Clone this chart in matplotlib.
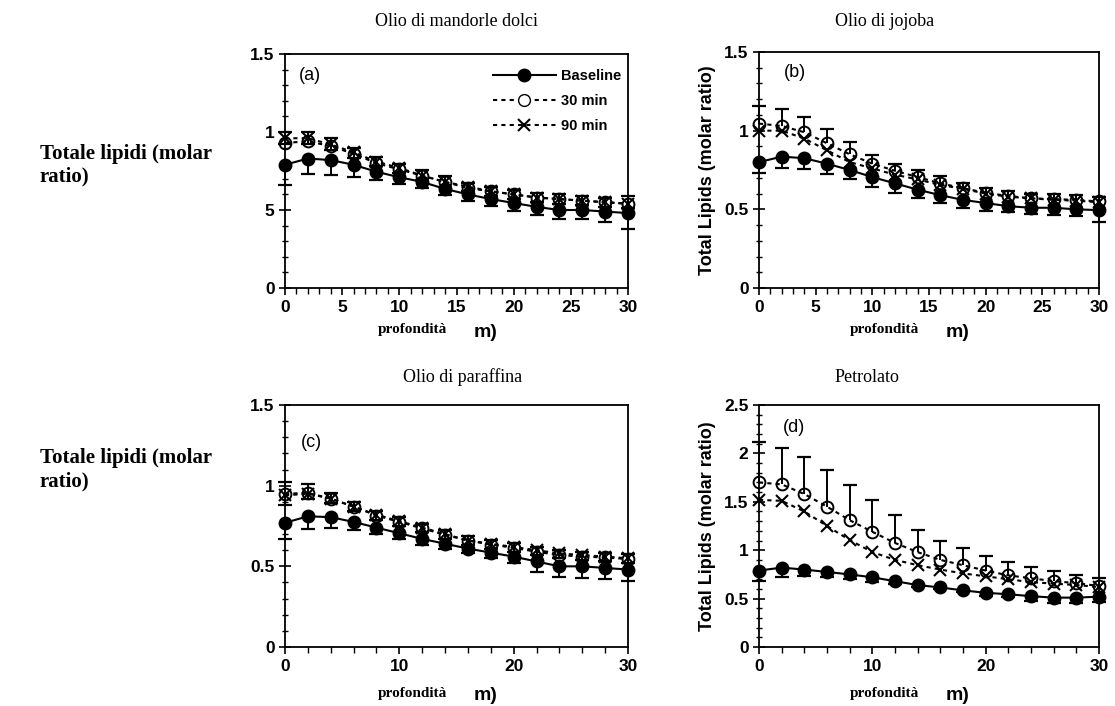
import numpy as np
import matplotlib
matplotlib.use('Agg')
import matplotlib.pyplot as plt
from matplotlib.lines import Line2D
from matplotlib.ticker import MultipleLocator

# %% data
depth = list(range(0, 31, 2))

aBase    = [0.79, 0.83, 0.82, 0.79, 0.745, 0.71, 0.68, 0.635, 0.60, 0.57, 0.545, 0.52, 0.50, 0.50, 0.49, 0.48]
aBaseErr = [0.13, 0.10, 0.095, 0.08, 0.05, 0.045, 0.04, 0.04, 0.045, 0.045, 0.05, 0.055, 0.06, 0.06, 0.07, 0.10]
a30      = [0.93, 0.94, 0.91, 0.86, 0.80, 0.76, 0.72, 0.68, 0.64, 0.62, 0.60, 0.58, 0.57, 0.56, 0.55, 0.54]
a30Err   = [0.07, 0.06, 0.05, 0.04, 0.04, 0.035, 0.035, 0.035, 0.035, 0.03, 0.03, 0.03, 0.03, 0.03, 0.03, 0.05]
a90      = [0.96, 0.96, 0.92, 0.87, 0.81, 0.77, 0.72, 0.68, 0.65, 0.62, 0.60, 0.58, 0.57, 0.56, 0.55, 0.54]
a90Err   = [0.04, 0.04, 0.035, 0.035, 0.03, 0.03, 0.03, 0.03, 0.03, 0.03, 0.03, 0.03, 0.03, 0.03, 0.03, 0.03]

bBase    = [0.80, 0.835, 0.825, 0.79, 0.75, 0.705, 0.665, 0.625, 0.59, 0.56, 0.54, 0.52, 0.51, 0.51, 0.50, 0.495]
bBaseErr = [0.07, 0.075, 0.07, 0.065, 0.06, 0.06, 0.06, 0.055, 0.05, 0.05, 0.05, 0.035, 0.04, 0.045, 0.045, 0.075]
b30      = [1.045, 1.03, 0.99, 0.92, 0.85, 0.79, 0.745, 0.705, 0.665, 0.635, 0.605, 0.585, 0.57, 0.565, 0.56, 0.55]
b30Err   = [0.11, 0.11, 0.10, 0.09, 0.075, 0.055, 0.045, 0.045, 0.045, 0.035, 0.03, 0.03, 0.03, 0.03, 0.03, 0.03]
b90      = [1.00, 1.00, 0.95, 0.875, 0.80, 0.76, 0.72, 0.69, 0.655, 0.63, 0.60, 0.58, 0.57, 0.56, 0.555, 0.545]

cBase    = [0.77, 0.81, 0.805, 0.775, 0.74, 0.705, 0.67, 0.64, 0.61, 0.585, 0.56, 0.53, 0.50, 0.50, 0.49, 0.48]
cBaseErr = [0.10, 0.08, 0.07, 0.05, 0.04, 0.035, 0.035, 0.03, 0.03, 0.035, 0.04, 0.065, 0.065, 0.07, 0.07, 0.07]
c30      = [0.95, 0.955, 0.92, 0.87, 0.815, 0.775, 0.735, 0.695, 0.66, 0.635, 0.615, 0.59, 0.57, 0.56, 0.555, 0.545]
c30Err   = [0.07, 0.055, 0.035, 0.03, 0.03, 0.03, 0.03, 0.03, 0.03, 0.03, 0.03, 0.03, 0.03, 0.03, 0.03, 0.03]
c90      = [0.94, 0.95, 0.92, 0.87, 0.82, 0.78, 0.74, 0.70, 0.66, 0.64, 0.62, 0.60, 0.58, 0.57, 0.56, 0.55]
c90Err   = [0.06, 0.03, 0.03, 0.03, 0.03, 0.03, 0.03, 0.03, 0.03, 0.03, 0.03, 0.03, 0.03, 0.03, 0.03, 0.03]

dBase    = [0.79, 0.82, 0.80, 0.775, 0.75, 0.72, 0.68, 0.64, 0.615, 0.585, 0.56, 0.545, 0.525, 0.51, 0.51, 0.52]
dBaseErr = [0.11, 0.10, 0.07, 0.055, 0.05, 0.05, 0.025, 0.02, 0.02, 0.02, 0.03, 0.03, 0.045, 0.06, 0.055, 0.06]
d30      = [1.70, 1.68, 1.58, 1.45, 1.31, 1.19, 1.075, 0.98, 0.90, 0.845, 0.79, 0.74, 0.71, 0.68, 0.66, 0.63]
d30Err   = [0.42, 0.38, 0.38, 0.38, 0.36, 0.33, 0.285, 0.23, 0.20, 0.175, 0.155, 0.135, 0.12, 0.10, 0.08, 0.08]
d90      = [1.52, 1.51, 1.40, 1.25, 1.105, 0.98, 0.90, 0.845, 0.80, 0.76, 0.73, 0.70, 0.67, 0.655, 0.64, 0.62]

legendLabels = ['Baseline', '30 min', '90 min']
panelTitles = ['Olio di mandorle dolci', 'Olio di jojoba', 'Olio di paraffina', 'Petrolato']
panelTags = ['(a)', '(b)', '(c)', '(d)']

# %% helpers
SANS = 'Liberation Sans'
SERIF = 'Liberation Serif'

def drawBars(ax, x, y, err, up):
  x = np.array(x); y = np.array(y); err = np.array(err)
  end = y + err if up else y - err
  ax.vlines(x, y, end, color='k', lw=1.4, zorder=2, clip_on=False)
  ax.plot(x, end, marker='_', markersize=10, mew=1.6, color='k', linestyle='none', zorder=2, clip_on=False)

def drawPanel(ax, base, baseErr, s30, s30Err, s90, s90Err):
  drawBars(ax, depth, base, baseErr, up=False)
  drawBars(ax, depth, s30, s30Err, up=True)
  if s90Err is not None:
    drawBars(ax, depth, s90, s90Err, up=False)
  ax.plot(depth, s90, color='k', lw=1.5, linestyle=(0, (2, 2)), marker='x', markersize=9, mew=1.5, zorder=3, clip_on=False)
  ax.plot(depth, s30, color='k', lw=1.5, linestyle=(0, (2, 2)), marker='o', markersize=8.5, mew=1.4,
          markerfacecolor='none', zorder=4, clip_on=False)
  ax.plot(depth, base, color='k', lw=1.5, linestyle='-', marker='o', markersize=9, zorder=5, clip_on=False)

def styleAxes(ax, ymax, xmajor, xminor):
  ax.set_xlim(0, 30)
  ax.set_ylim(0, ymax)
  ax.xaxis.set_major_locator(MultipleLocator(xmajor))
  ax.xaxis.set_minor_locator(MultipleLocator(xminor))
  ax.yaxis.set_major_locator(MultipleLocator(0.5))
  ax.yaxis.set_minor_locator(MultipleLocator(0.1))
  ax.tick_params(axis='y', which='major', direction='inout', length=8, width=1.2, right=False)
  ax.tick_params(axis='y', which='minor', direction='inout', length=5, width=1.0, right=False)
  ax.tick_params(axis='x', which='major', direction='out', length=5, width=1.2, top=False)
  ax.tick_params(axis='x', which='minor', direction='out', length=4, width=1.0, top=False)
  for s in ax.spines.values():
    s.set_linewidth(1.3)

def fmtTick(v):
  return f'{v:g}'

# %% figure
fig = plt.figure(figsize=(11.15, 7.06), dpi=100)
W, H = 1115, 706

def axRect(left, right, top, bottom):
  return [left / W, 1 - bottom / H, (right - left) / W, (bottom - top) / H]

axA = fig.add_axes(axRect(285, 628, 54, 288))
axB = fig.add_axes(axRect(759, 1099, 52, 288))
axC = fig.add_axes(axRect(285, 628, 405, 647))
axD = fig.add_axes(axRect(759, 1099, 405, 647))

drawPanel(axA, aBase, aBaseErr, a30, a30Err, a90, a90Err)
drawPanel(axB, bBase, bBaseErr, b30, b30Err, b90, None)
drawPanel(axC, cBase, cBaseErr, c30, c30Err, c90, c90Err)
drawPanel(axD, dBase, dBaseErr, d30, d30Err, d90, None)

styleAxes(axA, 1.5, 5, 1)
styleAxes(axB, 1.5, 5, 1)
styleAxes(axC, 1.5, 10, 2)
styleAxes(axD, 2.5, 10, 2)

for ax, ymax in [(axA, 1.5), (axB, 1.5), (axC, 1.5), (axD, 2.5)]:
  ticks = np.arange(0, ymax + 0.01, 0.5)
  labels = [fmtTick(t) for t in ticks]
  if ax is axA:
    labels[1] = '5'
  ax.set_yticks(ticks, labels, fontfamily=SANS, fontweight='bold', fontsize=12.5)
  xt = ax.get_xticks()
  ax.set_xticks(xt, [fmtTick(t) for t in xt], fontfamily=SANS, fontweight='bold', fontsize=12.5)
  ax.set_xlim(0, 30)

# panel tags
for ax, tag, (tx, ty) in zip([axA, axB, axC, axD], panelTags,
                             [(0.073, 0.91), (0.105, 0.915), (0.076, 0.847), (0.103, 0.905)]):
  ax.text(tx, ty, tag, transform=ax.transAxes, fontfamily=SANS, fontsize=13, ha='center', va='center')

# legend
handles = [
  Line2D([0], [0], color='k', lw=1.5, marker='o', markersize=9),
  Line2D([0], [0], color='k', lw=1.5, linestyle=(0, (2, 2)), marker='o', markersize=8.5, markerfacecolor='white'),
  Line2D([0], [0], color='k', lw=1.5, linestyle=(0, (2, 2)), marker='x', markersize=9, mew=1.5),
]
axA.legend(handles, legendLabels, loc='upper left', bbox_to_anchor=(0.585, 0.965), frameon=False,
           handlelength=4.3, handletextpad=0.35, labelspacing=0.75, borderpad=0,
           prop={'family': SANS, 'weight': 'bold', 'size': 10.5})

# titles
fig.text(456 / W, 1 - 22 / H, panelTitles[0], fontfamily=SERIF, fontsize=13, ha='center', va='center')
fig.text(885 / W, 1 - 22 / H, panelTitles[1], fontfamily=SERIF, fontsize=13, ha='center', va='center')
fig.text(463 / W, 1 - 377 / H, panelTitles[2], fontfamily=SERIF, fontsize=13, ha='center', va='center')
fig.text(867 / W, 1 - 377 / H, panelTitles[3], fontfamily=SERIF, fontsize=13, ha='center', va='center')

# left y labels
for yc in [165, 470]:
  fig.text(40 / W, 1 - yc / H, 'Totale lipidi (molar\nratio)', fontfamily=SERIF, fontweight='bold',
           fontsize=15, ha='left', va='center', linespacing=1.2)

# right y labels
for ax in [axB, axD]:
  ax.set_ylabel('Total Lipids (molar ratio)', fontfamily=SANS, fontweight='bold', fontsize=13, labelpad=6)

# x labels (profondita + remains of the original unit)
for ax, yPx in [(axA, 330), (axB, 330), (axC, 693), (axD, 693)]:
  pos = ax.get_position()
  x0 = pos.x0 + 0.37 * pos.width
  x1 = pos.x0 + 0.585 * pos.width
  fig.text(x0, 1 - yPx / H, 'profondità', fontfamily=SERIF, fontweight='bold', fontsize=11, ha='center', va='center')
  fig.text(x1, 1 - (yPx + 3) / H, 'm)', fontfamily=SANS, fontweight='bold', fontsize=14, ha='center', va='center')

fig.savefig('out.png', dpi=100)
